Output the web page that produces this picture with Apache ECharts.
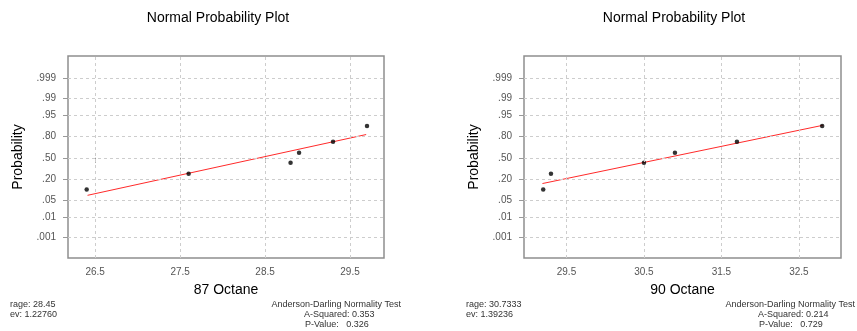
<!DOCTYPE html>
<html><head><meta charset="utf-8">
<script src="https://cdn.jsdelivr.net/npm/echarts@6/dist/echarts.min.js"></script>
<style>html,body{margin:0;padding:0;background:#fff}#c{width:857px;height:331px}</style>
</head><body><div id="c"></div>
<script>
// ---- data ----
const probTicks = [0.001, 0.01, 0.05, 0.20, 0.50, 0.80, 0.95, 0.99, 0.999];
const probLabels = ['.001', '.01', '.05', '.20', '.50', '.80', '.95', '.99', '.999'];
const xTicks87 = [26.5, 27.5, 28.5, 29.5];
const xTicks90 = [29.5, 30.5, 31.5, 32.5];
const octane87 = [26.4, 27.6, 28.8, 28.9, 29.3, 29.7];
const octane90 = [29.2, 29.3, 30.5, 30.9, 31.7, 32.8];
const plotProb = [0.109, 0.266, 0.422, 0.578, 0.734, 0.891];
const fit87X = [26.41, 29.69];
const fit87P = [0.072, 0.817];
const fit90X = [29.19, 32.81];
const fit90P = [0.158, 0.897];
const stats87 = ['rage: 28.45', 'ev: 1.22760', 'A-Squared: 0.353', 'P-Value:   0.326'];
const stats90 = ['rage: 30.7333', 'ev: 1.39236', 'A-Squared: 0.214', 'P-Value:   0.729'];

// inverse standard normal CDF (probability-scale transform)
function qnorm(p) {
  const a = [-3.969683028665376e+01, 2.209460984245205e+02, -2.759285104469687e+02, 1.383577518672690e+02, -3.066479806614716e+01, 2.506628277459239e+00];
  const b = [-5.447609879822406e+01, 1.615858368580409e+02, -1.556989798598866e+02, 6.680131188771972e+01, -1.328068155288572e+01];
  const c = [-7.784894002430293e-03, -3.223964580411365e-01, -2.400758277161838e+00, -2.549732539343734e+00, 4.374664141464968e+00, 2.938163982698783e+00];
  const d = [7.784695709041462e-03, 3.224671290700398e-01, 2.445134137142996e+00, 3.754408661907416e+00];
  const pl = 0.02425, ph = 1 - pl;
  let q, r;
  if (p < pl) { q = Math.sqrt(-2 * Math.log(p)); return (((((c[0]*q+c[1])*q+c[2])*q+c[3])*q+c[4])*q+c[5]) / ((((d[0]*q+d[1])*q+d[2])*q+d[3])*q+1); }
  if (p <= ph) { q = p - 0.5; r = q*q; return (((((a[0]*r+a[1])*r+a[2])*r+a[3])*r+a[4])*r+a[5])*q / (((((b[0]*r+b[1])*r+b[2])*r+b[3])*r+b[4])*r+1); }
  q = Math.sqrt(-2 * Math.log(1 - p)); return -(((((c[0]*q+c[1])*q+c[2])*q+c[3])*q+c[4])*q+c[5]) / ((((d[0]*q+d[1])*q+d[2])*q+d[3])*q+1);
}
const zTicks = probTicks.map(qnorm);
function zLabel(v) { for (let i = 0; i < zTicks.length; i++) if (Math.abs(zTicks[i] - v) < 1e-6) return probLabels[i]; return ''; }

const FONT = '"Liberation Sans", Arial, sans-serif';
const gridLine = { color: '#cdcdcd', width: 1, type: [3, 3] };

function xAxisDef(idx, min, max, ticks, name) {
  return {
    type: 'value', gridIndex: idx, min: min, max: max,
    name: name, nameLocation: 'middle', nameGap: 25,
    nameTextStyle: { fontSize: 14, color: '#000', fontFamily: FONT },
    axisLine: { show: false },
    axisTick: { show: true, length: 5, customValues: ticks, lineStyle: { color: '#999' } },
    axisLabel: { customValues: ticks, margin: 9, fontSize: 10, color: '#555', fontFamily: FONT, formatter: v => v.toFixed(1) },
    splitLine: { show: false }
  };
}
function yAxisDef(idx) {
  return {
    type: 'value', gridIndex: idx, min: -3.9, max: 3.96,
    name: 'Probability', nameLocation: 'middle', nameGap: 43,
    nameTextStyle: { fontSize: 14, color: '#000', fontFamily: FONT },
    axisLine: { show: false },
    axisTick: { show: true, length: 5, customValues: zTicks, lineStyle: { color: '#999' } },
    axisLabel: { customValues: zTicks, margin: 12, fontSize: 10, color: '#555', fontFamily: FONT, formatter: zLabel },
    splitLine: { show: false }
  };
}
function gridMarks(xt) {
  return {
    silent: true, symbol: 'none', label: { show: false }, lineStyle: gridLine, animation: false,
    data: xt.map(v => ({ xAxis: v })).concat(zTicks.map(z => ({ yAxis: z })))
  };
}
function panelSeries(idx, xs, fx, fp, xt) {
  return [
    { type: 'line', xAxisIndex: idx, yAxisIndex: idx, data: fx.map((x, i) => [x, qnorm(fp[i])]),
      symbol: 'none', lineStyle: { color: '#ff2a2a', width: 1 }, silent: true, markLine: gridMarks(xt), z: 3 },
    { type: 'scatter', xAxisIndex: idx, yAxisIndex: idx, data: xs.map((x, i) => [x, qnorm(plotProb[i])]),
      symbol: 'circle', symbolSize: 4.5, itemStyle: { color: '#000' }, z: 4 }
  ];
}
function statTexts(x0, adRight, s) {
  const base = { fontSize: 9, fill: '#333', fontFamily: FONT };
  return [
    { type: 'text', left: x0, top: 300, style: Object.assign({ text: s[0] }, base) },
    { type: 'text', left: x0, top: 310, style: Object.assign({ text: s[1] }, base) },
    { type: 'text', right: 857 - adRight, top: 300, style: Object.assign({ text: 'Anderson-Darling Normality Test' }, base) },
    { type: 'text', left: adRight - 97, top: 310, style: Object.assign({ text: s[2] }, base) },
    { type: 'text', left: adRight - 96, top: 320, style: Object.assign({ text: s[3] }, base) }
  ];
}

const chart = echarts.init(document.getElementById('c'), null, { renderer: 'canvas' });
chart.setOption({
  animation: false,
  backgroundColor: '#fff',
  title: [
    { text: 'Normal Probability Plot', left: 213, top: 6, textAlign: 'center', textStyle: { fontSize: 14, fontWeight: 'normal', color: '#000', fontFamily: FONT } },
    { text: 'Normal Probability Plot', left: 669, top: 6, textAlign: 'center', textStyle: { fontSize: 14, fontWeight: 'normal', color: '#000', fontFamily: FONT } }
  ],
  grid: [
    { left: 68, top: 56, width: 316, height: 202, show: true, borderColor: '#8e8e8e', borderWidth: 1.5, backgroundColor: 'transparent' },
    { left: 524, top: 56, width: 317, height: 202, show: true, borderColor: '#8e8e8e', borderWidth: 1.5, backgroundColor: 'transparent' }
  ],
  xAxis: [xAxisDef(0, 26.18, 29.9, xTicks87, '87 Octane'), xAxisDef(1, 28.952, 33.043, xTicks90, '90 Octane')],
  yAxis: [yAxisDef(0), yAxisDef(1)],
  series: panelSeries(0, octane87, fit87X, fit87P, xTicks87).concat(panelSeries(1, octane90, fit90X, fit90P, xTicks90)),
  graphic: statTexts(10, 401, stats87).concat(statTexts(466, 855, stats90))
});
</script>
</body></html>
